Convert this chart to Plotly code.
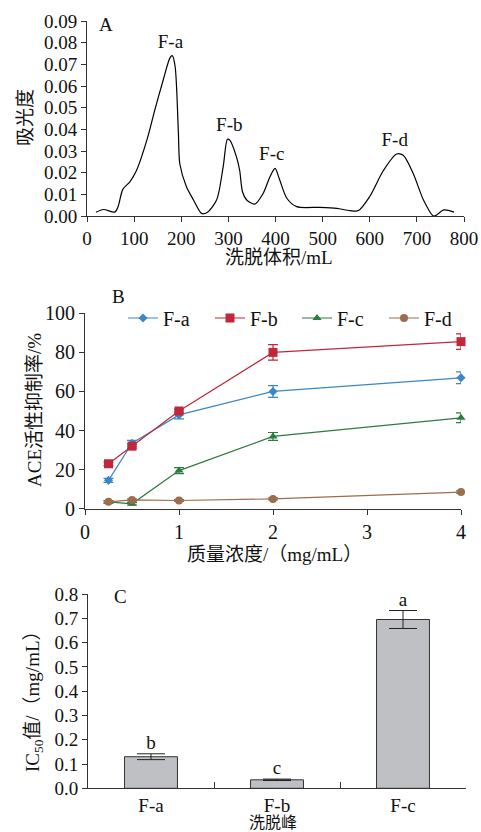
import plotly.graph_objects as go

W, H = 481, 832
def fx(x): return x / W
def fy(y): return 1 - y / H

FONT = "'Liberation Serif', 'Times New Roman', serif"
CJK = "'Liberation Serif', 'Noto Sans CJK SC', serif"
AX = "#333333"

# ---------- Panel A: elution profile ----------
vol = [19, 35, 59, 66, 76, 91, 105, 127, 144, 162, 176, 181, 187, 194, 197, 211, 226, 243, 254,
       275, 289, 298, 303, 317, 324, 330, 339, 356, 374, 388, 399, 409, 424, 445, 494, 530, 558,
       576, 600, 629, 657, 671, 692, 714, 735, 742, 757, 779]
absorb = [0.0017, 0.0030, 0.0018, 0.0043, 0.0123, 0.0158, 0.0210, 0.0350, 0.0490, 0.0630, 0.0730,
          0.0740, 0.0690, 0.0380, 0.0240, 0.0135, 0.0074, 0.0012, 0.0015, 0.0074, 0.0228, 0.0354,
          0.0350, 0.0274, 0.0210, 0.0112, 0.0074, 0.0055, 0.0105, 0.0180, 0.0220, 0.0166, 0.0082,
          0.0043, 0.0040, 0.0035, 0.0025, 0.0025, 0.0090, 0.0210, 0.0286, 0.0280, 0.0197, 0.0074,
          0.0000, 0.0005, 0.0028, 0.0018]
peak_labels = ["F-a", "F-b", "F-c", "F-d"]
peak_x = [177, 302, 392, 653]
peak_y = [0.0797, 0.0412, 0.0282, 0.0343]

# ---------- Panel B: ACE inhibition ----------
conc = [0.25, 0.5, 1, 2, 4]
series_names = ["F-a", "F-b", "F-c", "F-d"]
inhib = {
    "F-a": [14.5, 33.5, 48.0, 60.0, 67.0],
    "F-b": [23.0, 32.0, 50.0, 80.0, 85.5],
    "F-c": [3.5, 2.5, 19.5, 37.0, 46.5],
    "F-d": [3.5, 4.5, 4.2, 5.0, 8.5],
}
inhib_err = {
    "F-a": [1.0, 1.5, 2.0, 3.0, 3.0],
    "F-b": [1.0, 1.0, 1.0, 4.0, 4.0],
    "F-c": [0.6, 0.6, 1.5, 2.0, 2.5],
    "F-d": [0.5, 0.5, 0.5, 0.5, 0.6],
}
colors = {"F-a": "#3b86c6", "F-b": "#c1273b", "F-c": "#2e7b40", "F-d": "#9c6c4c"}
symbols = {"F-a": "diamond", "F-b": "square", "F-c": "triangle-up", "F-d": "circle"}
msizes = {"F-a": 7, "F-b": 9, "F-c": 8, "F-d": 8}

# ---------- Panel C: IC50 ----------
peaks_c = ["F-a", "F-b", "F-c"]
ic50 = [0.130, 0.035, 0.695]
ic50_err = [0.012, 0.003, 0.037]
sig = ["b", "c", "a"]

fig = go.Figure()

# Panel A
fig.add_trace(go.Scatter(x=vol, y=absorb, mode="lines", line=dict(color="black", width=1.2, shape="spline", smoothing=0.8),
                         xaxis="x", yaxis="y", showlegend=False, hoverinfo="skip"))
fig.add_trace(go.Scatter(x=peak_x, y=peak_y, mode="text", text=peak_labels, textfont=dict(family=FONT, size=19, color="#111"),
                         xaxis="x", yaxis="y", showlegend=False, cliponaxis=False))

# Panel B
for name in series_names:
    fig.add_trace(go.Scatter(
        x=conc, y=inhib[name], mode="lines+markers", name=name,
        line=dict(color=colors[name], width=1.2),
        marker=dict(symbol=symbols[name], size=msizes[name], color=colors[name]),
        error_y=dict(type="data", array=inhib_err[name], color=colors[name], thickness=1.2, width=5),
        xaxis="x2", yaxis="y2", cliponaxis=False))

# Panel C
fig.add_trace(go.Bar(
    x=peaks_c, y=ic50, width=0.42,
    marker=dict(color="#bfc0c4", line=dict(color="#333", width=1)),
    error_y=dict(type="data", array=ic50_err, color="#222", thickness=1, width=14),
    xaxis="x3", yaxis="y3", showlegend=False))
fig.add_trace(go.Scatter(
    x=peaks_c, y=[v + e for v, e in zip(ic50, ic50_err)], mode="text", text=sig,
    textposition="top center", textfont=dict(family=FONT, size=19, color="#111"),
    xaxis="x3", yaxis="y3", showlegend=False, cliponaxis=False))

def axis_common(size):
    return dict(showline=True, linecolor=AX, linewidth=1, ticks="outside", ticklen=5, tickcolor=AX,
                showgrid=False, zeroline=False, tickfont=dict(family=FONT, size=size, color="#111"))

fig.update_layout(
    width=W, height=H, margin=dict(l=0, r=0, t=0, b=0, autoexpand=False),
    paper_bgcolor="white", plot_bgcolor="white",
    font=dict(family=FONT, color="#111"),
    xaxis=dict(domain=[fx(87), fx(464)], range=[0, 800], dtick=100, anchor="y", **axis_common(19)),
    yaxis=dict(domain=[fy(216), fy(21)], range=[0, 0.09], dtick=0.01, tickformat=".2f", anchor="x", **axis_common(19)),
    xaxis2=dict(domain=[fx(85), fx(461)], range=[0, 4], dtick=1, anchor="y2", **axis_common(20)),
    yaxis2=dict(domain=[fy(508.7), fy(313.3)], range=[0, 100], dtick=20, anchor="x2", **axis_common(20)),
    xaxis3=dict(domain=[fx(88), fx(466)], range=[-0.5, 2.5], anchor="y3", type="category",
                showline=True, linecolor=AX, linewidth=1, ticks="inside", ticklen=6, tickcolor=AX,
                showgrid=False, zeroline=False, tickfont=dict(family=FONT, size=19, color="#111"),
                tickson="boundaries"),
    yaxis3=dict(domain=[fy(788.3), fy(594)], range=[0, 0.8], dtick=0.1, tickformat=".1f", anchor="x3", **axis_common(19)),
    legend=dict(orientation="h", x=fx(123), y=fy(318), xanchor="left", yanchor="middle",
                font=dict(family=FONT, size=20, color="#111"), bgcolor="rgba(0,0,0,0)",
                entrywidth=42, entrywidthmode="pixels", itemwidth=30, tracegroupgap=0),
)

ann = []
def add_text(x, y, text, size=16, angle=0, family=CJK, yanchor="middle"):
    ann.append(dict(x=fx(x), y=fy(y), xref="paper", yref="paper", text=text, showarrow=False,
                    textangle=angle, font=dict(family=family, size=size, color="#111"),
                    xanchor="center", yanchor=yanchor))

add_text(106, 24, "A", 19, family=FONT)
add_text(118, 296, "B", 19, family=FONT)
add_text(120, 596, "C", 19, family=FONT)
add_text(279, 257, "洗脱体积/mL", 19)
add_text(25, 118, "吸光度", 19, -90)
add_text(274, 554, "质量浓度/（mg/mL）", 19)
add_text(34, 410, "ACE活性抑制率/%", 19, -90)
add_text(34, 697, "IC<sub>50</sub>值/（mg/mL）", 19, -90)
add_text(273, 833, "洗脱峰", 16, yanchor="bottom")
fig.update_layout(annotations=ann)

fig.write_html("out.html")
